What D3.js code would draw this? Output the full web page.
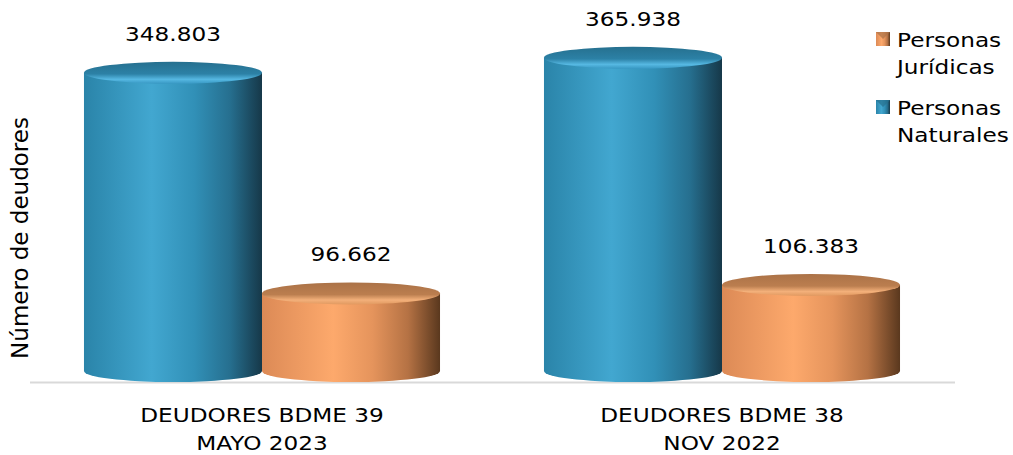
<!DOCTYPE html>
<html>
  <head>
    <meta charset="utf-8">
    <title>Deudores BDME</title>
    <script src="https://cdn.jsdelivr.net/npm/d3@7"></script>
    <style>
      body { margin: 0; background: #fff; }
      text { font-family: "DejaVu Sans", Verdana, sans-serif; fill: #000; }
    </style>
  </head>
  <body>
  <script type="text/javascript">
    // data
    var categories = ["DEUDORES BDME 39|MAYO 2023", "DEUDORES BDME 38|NOV 2022"];
    var series = ["Personas Naturales", "Personas Jurídicas"];
    var naturales = [348803, 365938];
    var juridicas = [96662, 106383];
    var legendOrder = ["Personas|Jurídicas", "Personas|Naturales"];

    var W = 1013, H = 455;
    var stretch = 1.16;   // text in the picture is a bit wider than the font

    var svg = d3.select("body").append("svg")
      .attr("width", W).attr("height", H);
    var defs = svg.append("defs");

    var x0 = d3.scaleBand().domain(categories).range([32, 952])
      .paddingInner(0.226).paddingOuter(0.113);
    var x1 = d3.scaleBand().domain(series).range([0, x0.bandwidth()]);
    var y = d3.scaleLinear().domain([0, 400000]).range([378, 28]);

    var colors = {
      "Personas Naturales": {
        body: [["0%", "#2a84a9"], ["38%", "#42a7d0"], ["62%", "#3190b7"], ["82%", "#266f8f"], ["100%", "#163849"]],
        top: ["#26708f", "#2c81a6", "#56b8e2", "#3797c2"], id: "nat"
      },
      "Personas Jurídicas": {
        body: [["0%", "#dc8a56"], ["40%", "#fda96c"], ["62%", "#e5945c"], ["82%", "#b57244"], ["100%", "#5a381e"]],
        top: ["#ab7247", "#bb7e4f", "#f3b07a", "#e19960"], id: "jur"
      }
    };

    series.forEach(function(s){
      var c = colors[s];
      var g1 = defs.append("linearGradient").attr("id", "body-" + c.id)
        .attr("x1", "0%").attr("x2", "100%").attr("y1", "0%").attr("y2", "0%");
      c.body.forEach(function(st){ g1.append("stop").attr("offset", st[0]).attr("stop-color", st[1]); });
      var g2 = defs.append("linearGradient").attr("id", "top-" + c.id)
        .attr("x1", "0%").attr("x2", "0%").attr("y1", "0%").attr("y2", "100%");
      g2.append("stop").attr("offset", "0%").attr("stop-color", c.top[0]);
      g2.append("stop").attr("offset", "55%").attr("stop-color", c.top[1]);
      g2.append("stop").attr("offset", "80%").attr("stop-color", c.top[2]);
      g2.append("stop").attr("offset", "100%").attr("stop-color", c.top[3]);
    });

    // baseline
    svg.append("line")
      .attr("x1", 30).attr("x2", 955)
      .attr("y1", 382.5).attr("y2", 382.5)
      .attr("stroke", "#d9d9d9").attr("stroke-width", 2);

    var rows = [];
    categories.forEach(function(cat, i){
      rows.push({cat: cat, s: "Personas Naturales", v: naturales[i]});
      rows.push({cat: cat, s: "Personas Jurídicas", v: juridicas[i]});
    });

    var ry = 11, yBottom = 371;
    rows.forEach(function(d){
      var c = colors[d.s];
      var left = x0(d.cat) + x1(d.s);
      var rx = x1.bandwidth() / 2;
      var cx = left + rx;
      var yt = y(d.v);
      var g = svg.append("g");
      g.append("path")
        .attr("d", "M" + left + "," + yt + " L" + left + "," + yBottom +
          " A" + rx + "," + ry + " 0 0 0 " + (left + 2 * rx) + "," + yBottom +
          " L" + (left + 2 * rx) + "," + yt + " Z")
        .attr("fill", "url(#body-" + c.id + ")");
      g.append("ellipse")
        .attr("cx", cx).attr("cy", yt).attr("rx", rx).attr("ry", ry)
        .attr("fill", "url(#top-" + c.id + ")");
      svg.append("g")
        .attr("transform", "translate(" + cx + "," + (yt - 32) + ") scale(" + stretch + ",1)")
        .append("text")
          .attr("text-anchor", "middle")
          .style("font-size", "20px")
          .text(d3.format(",")(d.v).replace(/,/g, "."));
    });

    // category labels
    categories.forEach(function(cat){
      var cx = x0(cat) + x0.bandwidth() / 2;
      cat.split("|").forEach(function(line, j){
        svg.append("g")
          .attr("transform", "translate(" + cx + "," + (422 + j * 28) + ") scale(" + stretch + ",1)")
          .append("text")
            .attr("text-anchor", "middle")
            .style("font-size", "20px")
            .text(line);
      });
    });

    // y title
    svg.append("text")
      .attr("transform", "translate(28,238) rotate(-90)")
      .attr("text-anchor", "middle")
      .style("font-size", "23px")
      .text("Número de deudores");

    // legend
    var legendSeries = ["Personas Jurídicas", "Personas Naturales"];
    legendSeries.forEach(function(s, i){
      var c = colors[s];
      var ly = 32 + i * 68;
      svg.append("rect")
        .attr("x", 876).attr("y", ly).attr("width", 14).attr("height", 14)
        .attr("fill", "url(#body-" + c.id + ")");
      svg.append("polygon")
        .attr("points", [[876, ly], [890, ly], [883, ly + 7]].join(" "))
        .attr("fill", c.top[0]).attr("opacity", 0.7);
      legendOrder[i].split("|").forEach(function(line, j){
        svg.append("g")
          .attr("transform", "translate(897," + (ly + 15 + j * 27) + ") scale(" + stretch + ",1)")
          .append("text")
            .style("font-size", "20px")
            .text(line);
      });
    });
  </script>
  </body>
</html>
